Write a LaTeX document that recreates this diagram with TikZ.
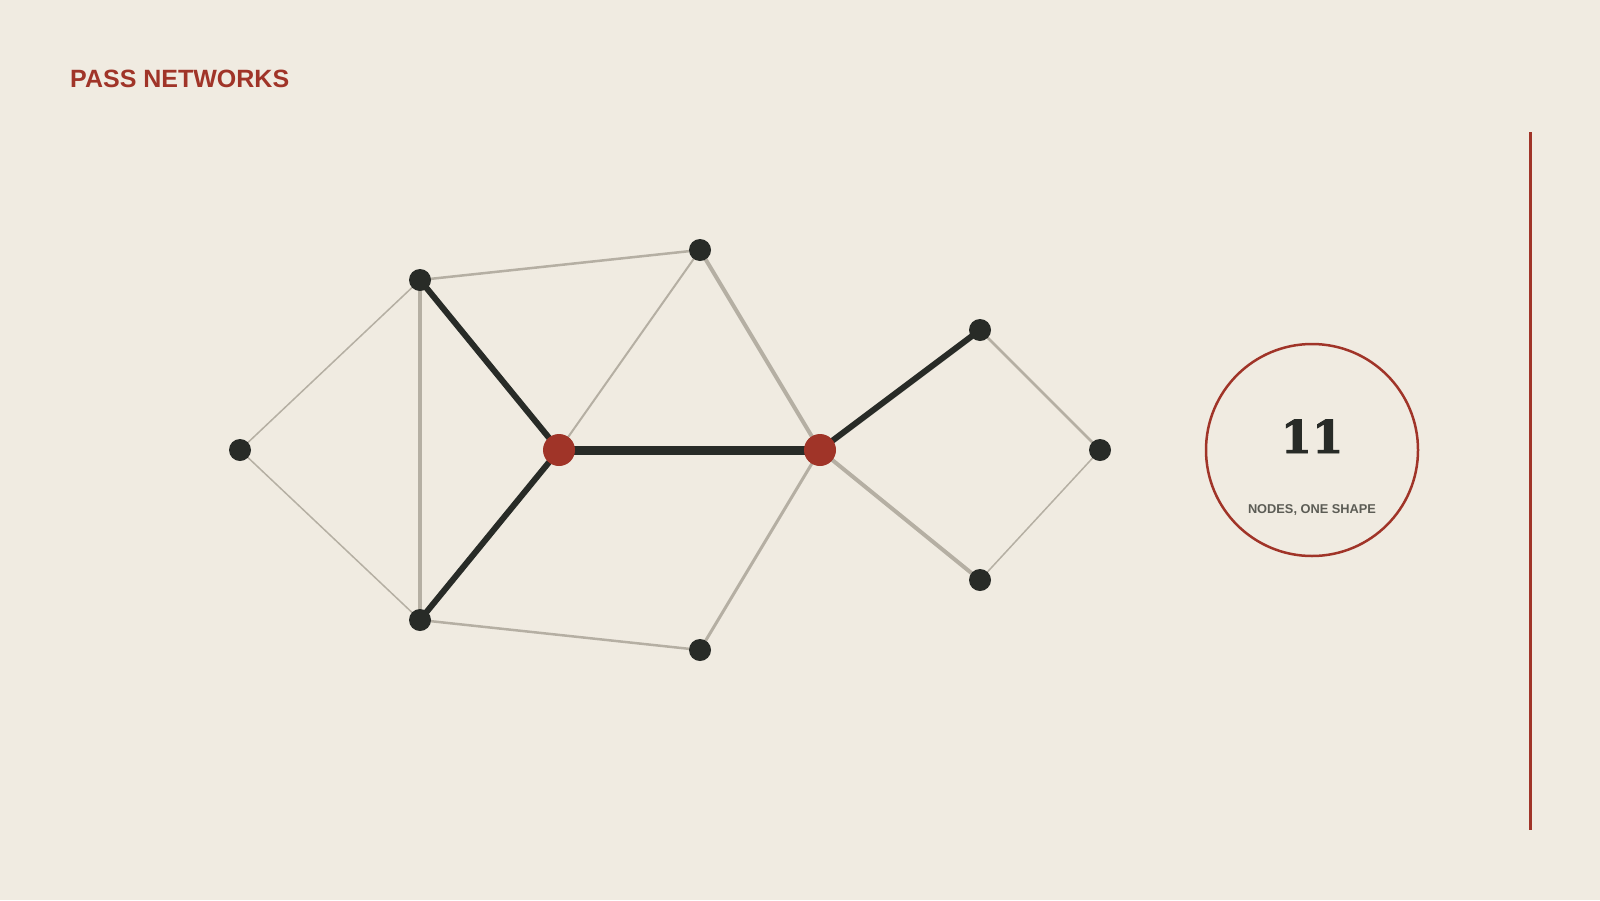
\documentclass[tikz,border=0pt]{standalone}
\usepackage{fontspec}
\setmainfont{Liberation Sans}
\newfontfamily\numserif[BoldFeatures={FakeBold=2}]{DejaVu Serif}
\usetikzlibrary{backgrounds}
\definecolor{paper}{HTML}{F0EBE1}
\definecolor{ink}{HTML}{282B27}
\definecolor{rust}{HTML}{A03428}
\definecolor{pebble}{HTML}{B5AFA3}
\definecolor{slate}{HTML}{5C5C55}

\begin{document}
\begin{tikzpicture}[x=1pt, y=-1pt,
  player/.style={circle, fill=ink, inner sep=0pt, minimum size=22pt},
  hub/.style={circle, fill=rust, inner sep=0pt, minimum size=32pt},
  pass/.style={draw=pebble, line width=#1},
  keypass/.style={draw=ink, line width=#1}]
\useasboundingbox (0,0) rectangle (1600,900);
% players
\node[player] (wl) at (240,450) {};
\node[player] (ml) at (420,280) {};
\node[player] (bl) at (420,620) {};
\node[player] (tp) at (700,250) {};
\node[player] (bt) at (700,650) {};
\node[hub] (h1) at (559,450) {};
\node[hub] (h2) at (820,450) {};
\node[player] (ru) at (980,330) {};
\node[player] (fw) at (1100,450) {};
\node[player] (rd) at (980,580) {};
% count badge
\node[circle, draw=rust, line width=2.5pt, minimum size=212pt, inner sep=0pt] (badge) at (1312,450) {};
\node[anchor=base, text=ink, font=\numserif\bfseries\fontsize{45}{45}\selectfont] (count) at (1312,453) {11};
\node[anchor=base, text=slate, font=\bfseries\fontsize{12.8}{14}\selectfont] (caption) at (1312,513) {NODES, ONE SHAPE};
\node[anchor=base west, inner sep=0pt, text=rust, font=\bfseries\fontsize{25}{28}\selectfont] (title) at (70,87) {PASS NETWORKS};
\coordinate (rtop) at (1530,132);
\coordinate (rbot) at (1530,830);
\draw[rust, line width=3pt] (rtop) -- (rbot);
\begin{pgfonlayer}{background}
\fill[paper] (0,0) rectangle (1600,900);
\path[pass=1.5pt] (wl.center) -- (ml.center);
\path[pass=1.5pt] (wl.center) -- (bl.center);
\path[pass=3.5pt] (ml.center) -- (bl.center);
\path[pass=2.5pt] (ml.center) -- (tp.center);
\path[pass=2.5pt] (bl.center) -- (bt.center);
\path[pass=2pt] (h1.center) -- (tp.center);
\path[pass=4pt] (tp.center) -- (h2.center);
\path[pass=3pt] (h2.center) -- (bt.center);
\path[pass=4pt] (h2.center) -- (rd.center);
\path[pass=2.5pt] (ru.center) -- (fw.center);
\path[pass=1.5pt] (fw.center) -- (rd.center);
\path[keypass=6pt] (ml.center) -- (h1.center);
\path[keypass=6pt] (bl.center) -- (h1.center);
\path[keypass=9pt] (h1.center) -- (h2.center);
\path[keypass=6pt] (h2.center) -- (ru.center);
\end{pgfonlayer}
\end{tikzpicture}
\end{document}
